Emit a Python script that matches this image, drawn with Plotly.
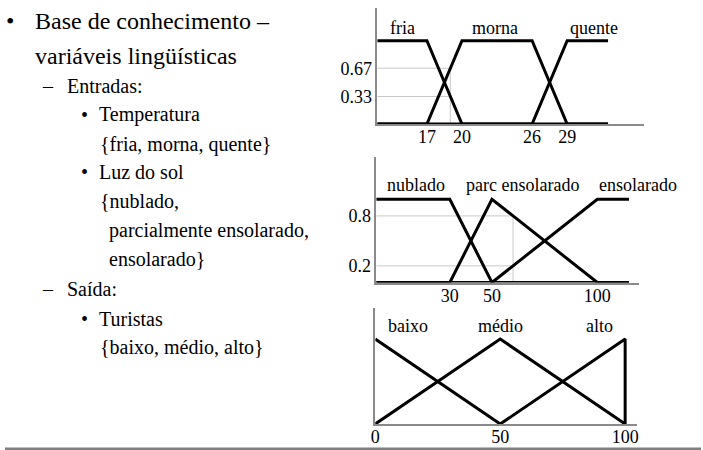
import plotly.graph_objects as go

W, H = 703, 450
SERIF = "Liberation Serif, Times New Roman, serif"

# ---------------- data ----------------
# Temperatura
temp_names = ["fria", "morna", "quente"]
temp_x = [[12.75, 17, 20, 32.5], [12.75, 17, 20, 26, 29, 32.5], [12.75, 26, 29, 32.5]]
temp_y = [[1, 1, 0, 0], [0, 0, 1, 1, 0, 0], [0, 0, 1, 1]]
temp_ticks = [17, 20, 26, 29]
temp_levels = [0.33, 0.67]
temp_input = 19
temp_label_x = [14.95, 22.8, 31.3]

# Luz do sol
sun_names = ["nublado", "parc ensolarado", "ensolarado"]
sun_x = [[-4.9, 30, 50, 115], [-4.9, 30, 50, 100, 115], [-4.9, 50, 100, 115]]
sun_y = [[1, 1, 0, 0], [0, 0, 1, 0, 0], [0, 0, 1, 1]]
sun_ticks = [30, 50, 100]
sun_levels = [0.2, 0.8]
sun_input = 60
sun_label_x = [13.8, 64.6, 119.5]

# Turistas
tur_names = ["baixo", "médio", "alto"]
tur_x = [[0, 50], [0, 50, 100], [50, 100, 100]]
tur_y = [[1, 0], [0, 1, 0], [0, 1, 0]]
tur_ticks = [0, 50, 100]
tur_label_x = [13, 50.3, 89.9]

# Left-side slide text: (text, level, marker)
slide_lines = [
    ("Base de conhecimento –", 0, "•"),
    ("variáveis lingüísticas", 0, ""),
    ("Entradas:", 1, "–"),
    ("Temperatura", 2, "•"),
    ("{fria, morna, quente}", 3, ""),
    ("Luz do sol", 2, "•"),
    ("{nublado,", 3, ""),
    ("parcialmente ensolarado,", 4, ""),
    ("ensolarado}", 4, ""),
    ("Saída:", 1, "–"),
    ("Turistas", 2, "•"),
    ("{baixo, médio, alto}", 3, ""),
]
baselines = [28.3, 63.3, 92.3, 120.7, 150, 178, 206.7, 236.7, 265, 295, 325, 353.3]

# ---------------- figure ----------------
fig = go.Figure()

def px_x(p):
    return p / W

def px_y(p):
    return 1 - p / H

panels = [
    dict(names=temp_names, xs=temp_x, ys=temp_y, ticks=temp_ticks, levels=temp_levels,
         inp=temp_input, lx=temp_label_x, dom_x=(376, 645), dom_y=(124, 8),
         xr=[12.75, 35.54], ymax=1.3926, ly=1.15),
    dict(names=sun_names, xs=sun_x, ys=sun_y, ticks=sun_ticks, levels=sun_levels,
         inp=sun_input, lx=sun_label_x, dom_x=(375, 640), dom_y=(282.5, 157),
         xr=[-4.9, 119.6], ymax=1.508, ly=1.17),
    dict(names=tur_names, xs=tur_x, ys=tur_y, ticks=tur_ticks, levels=[],
         inp=None, lx=tur_label_x, dom_x=(374, 638), dom_y=(424, 308),
         xr=[0, 104.6], ymax=1.365, ly=1.15),
]

annotations = []
for i, p in enumerate(panels):
    n = "" if i == 0 else str(i + 1)
    xa, ya = "x" + n, "y" + n
    if p["inp"] is not None:
        for lv in p["levels"]:
            fig.add_trace(go.Scatter(x=[p["xr"][0], p["inp"]], y=[lv, lv], mode="lines",
                                     line=dict(color="#c9c9c9", width=1), xaxis=xa, yaxis=ya,
                                     showlegend=False, hoverinfo="skip"))
        fig.add_trace(go.Scatter(x=[p["inp"], p["inp"]], y=[max(p["levels"]), 0], mode="lines",
                                 line=dict(color="#c9c9c9", width=1), xaxis=xa, yaxis=ya,
                                 showlegend=False, hoverinfo="skip"))
    for name, xs, ys in zip(p["names"], p["xs"], p["ys"]):
        fig.add_trace(go.Scatter(x=xs, y=ys, mode="lines", name=name,
                                 line=dict(color="black", width=3),
                                 xaxis=xa, yaxis=ya, showlegend=False, cliponaxis=False))
    for name, lx in zip(p["names"], p["lx"]):
        annotations.append(dict(x=lx, y=p["ly"], xref=xa, yref=ya, text=name, showarrow=False,
                                font=dict(family=SERIF, size=18, color="black"),
                                xanchor="center", yanchor="middle"))
    xkey = "xaxis" + n
    ykey = "yaxis" + n
    fig.update_layout({
        xkey: dict(domain=[px_x(p["dom_x"][0]), px_x(p["dom_x"][1])], range=p["xr"],
                   anchor=ya, showline=True, linecolor="#8a8a8a", linewidth=1.5,
                   showgrid=False, zeroline=False, ticks="", tickvals=p["ticks"],
                   ticklabelstandoff=-4,
                   tickfont=dict(family=SERIF, size=18, color="black")),
        ykey: dict(domain=[px_y(p["dom_y"][0]), px_y(p["dom_y"][1])], range=[0, p["ymax"]],
                   anchor=xa, showline=True, linecolor="#8a8a8a", linewidth=1.5,
                   showgrid=False, zeroline=False, ticks="",
                   tickvals=p["levels"], ticktext=[str(v) for v in p["levels"]],
                   showticklabels=bool(p["levels"]),
                   tickfont=dict(family=SERIF, size=18, color="black")),
    })

# left text
level_x = {0: 28, 1: 61, 2: 93, 3: 94, 4: 103}
marker_x = {0: 5, 1: 43, 2: 80.5}
for (txt, lvl, mk), bl in zip(slide_lines, baselines):
    fs = 24 if lvl == 0 else 20
    cy = bl - 0.3 * fs
    annotations.append(dict(x=px_x(level_x[lvl]), y=px_y(cy), xref="paper", yref="paper",
                            text=txt, showarrow=False, xanchor="left", yanchor="middle",
                            font=dict(family=SERIF, size=fs, color="black")))
    if mk:
        annotations.append(dict(x=px_x(marker_x[lvl]), y=px_y(cy), xref="paper", yref="paper",
                                text=mk, showarrow=False, xanchor="center", yanchor="middle",
                                font=dict(family=SERIF, size=fs, color="black")))

fig.update_layout(
    width=W, height=H, margin=dict(l=0, r=0, t=0, b=0),
    paper_bgcolor="white", plot_bgcolor="white",
    font=dict(family=SERIF),
    hovermode=False,
    annotations=annotations,
    shapes=[dict(type="line", xref="paper", yref="paper", x0=0, x1=1, y0=px_y(448.8), y1=px_y(448.8),
                 line=dict(color="#7f7f7f", width=2.5))],
)

fig.write_html("out.html", config={"displayModeBar": False},
               post_script="document.body.style.margin='0';")
